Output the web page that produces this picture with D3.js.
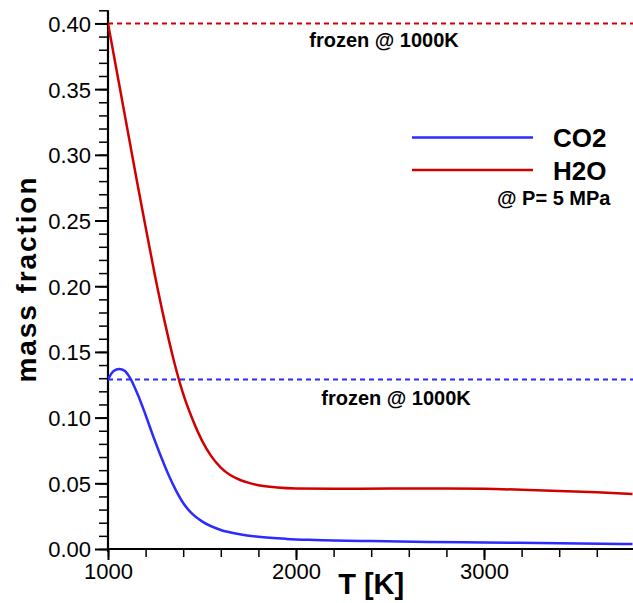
<!DOCTYPE html>
<html>
<head>
<meta charset="utf-8">
<script src="https://cdn.jsdelivr.net/npm/d3@7"></script>
<style>
  body { margin: 0; background: #fff; }
  svg { display: block; font-family: "Liberation Sans", Arial, Helvetica, sans-serif; }
  .axis path, .axis line { stroke: #000; }
</style>
</head>
<body>
<svg id="chart" width="633" height="603"></svg>
<script>

// temperatures [K] and mass fractions
var CO2_T = [1000, 1030, 1060, 1090, 1120, 1160, 1200, 1240, 1280, 1320, 1360, 1400,
  1450, 1500, 1600, 1700, 1800, 1950, 2100, 2400, 2700, 3000, 3400, 3790];
var CO2_Y = [0.129, 0.1355, 0.137, 0.1355, 0.1295, 0.117, 0.102, 0.086, 0.071, 0.057,
  0.045, 0.035, 0.0265, 0.021, 0.0145, 0.0113, 0.0093, 0.0077, 0.0069, 0.0060,
  0.0054, 0.0050, 0.0044, 0.0038];

var H2O_T = [1000, 1050, 1100, 1150, 1200, 1250, 1300, 1350, 1400, 1450, 1500, 1550,
  1600, 1650, 1700, 1750, 1800, 1900, 2000, 2200, 2500, 2800, 3000, 3200, 3400,
  3600, 3790];
var H2O_Y = [0.400, 0.361, 0.322, 0.283, 0.245, 0.208, 0.174, 0.1435, 0.118, 0.0985,
  0.0825, 0.0705, 0.0620, 0.0563, 0.0527, 0.0503, 0.0485, 0.0468, 0.0461, 0.0459,
  0.0460, 0.0460, 0.0458, 0.0451, 0.0442, 0.0431, 0.0419];

var FROZEN_CO2 = 0.129;
var FROZEN_H2O = 0.400;

var X_MAJOR = [1000, 2000, 3000];
var X_MINOR = d3.range(1000, 3700, 200);
var Y_MAJOR = d3.range(0, 0.4001, 0.05);
var Y_MINOR = d3.range(0, 0.4101, 0.01);

var SERIES = [
  { name: 'CO2', color: '#2b2bff', t: CO2_T, y: CO2_Y, frozen: FROZEN_CO2 },
  { name: 'H2O', color: '#d10000', t: H2O_T, y: H2O_Y, frozen: FROZEN_H2O }
];

var svg = d3.select('#chart');

var x = d3.scaleLinear().domain([1000, 3800]).range([108, 634.4]);
var y = d3.scaleLinear().domain([0, 0.41]).range([549, 10.3]);

svg.append('clipPath').attr('id', 'plot-clip')
  .append('rect')
    .attr('x', x(1000)).attr('y', 0)
    .attr('width', 633 - x(1000)).attr('height', y(0));

// ----- axes ------------------------------------------------------------------
svg.append('g')
    .attr('class', 'axis')
    .attr('transform', 'translate(0,' + y(0) + ')')
    .call(d3.axisBottom(x).tickValues(X_MINOR).tickSize(8).tickFormat(''))
    .call((g) => g.select('.domain').remove())
    .call((g) => g.selectAll('line').attr('stroke-width', 1.5));

var xMajor = svg.append('g')
    .attr('class', 'axis')
    .attr('transform', 'translate(0,' + y(0) + ')')
    .call(d3.axisBottom(x).tickValues(X_MAJOR).tickSize(11).tickFormat(d3.format('d')));
xMajor.select('.domain').attr('stroke-width', 2.2).attr('d', 'M' + x(1000) + ',0H633');
xMajor.selectAll('line').attr('stroke-width', 2);
xMajor.selectAll('text')
    .attr('y', 30).attr('dy', 0)
    .attr('font-size', 22).attr('fill', '#000');

svg.append('g')
    .attr('class', 'axis')
    .attr('transform', 'translate(' + x(1000) + ',0)')
    .call(d3.axisLeft(y).tickValues(Y_MINOR).tickSize(9).tickFormat(''))
    .call((g) => g.select('.domain').remove())
    .call((g) => g.selectAll('line').attr('stroke-width', 1.5));

var yMajor = svg.append('g')
    .attr('class', 'axis')
    .attr('transform', 'translate(' + x(1000) + ',0)')
    .call(d3.axisLeft(y).tickValues(Y_MAJOR).tickSize(13).tickPadding(4)
      .tickFormat(d3.format('.2f')));
yMajor.select('.domain').attr('stroke-width', 2.2)
    .attr('d', 'M0,' + (y(0) + 3) + 'V' + y(0.41));
yMajor.selectAll('line').attr('stroke-width', 2);
yMajor.selectAll('text')
    .attr('font-size', 22).attr('fill', '#000').attr('dy', '0.36em');

svg.append('text')
    .attr('x', x(2400)).attr('y', 594)
    .attr('text-anchor', 'middle')
    .attr('font-size', 29).attr('font-weight', 'bold')
    .text('T [K]');

svg.append('text')
    .attr('transform', 'translate(36,280) rotate(-90)')
    .attr('text-anchor', 'middle')
    .attr('font-size', 28).attr('font-weight', 'bold')
    .attr('textLength', 205).attr('lengthAdjust', 'spacing')
    .text('mass fraction');

// ----- curves ----------------------------------------------------------------
var line = d3.line()
    .x((d) => x(d[0]))
    .y((d) => y(d[1]))
    .curve(d3.curveMonotoneX);

var plot = svg.append('g').attr('clip-path', 'url(#plot-clip)');

SERIES.forEach(function(s) {
  plot.append('line')
      .attr('x1', x(1000)).attr('x2', 633)
      .attr('y1', y(s.frozen)).attr('y2', y(s.frozen))
      .attr('stroke', s.color).attr('stroke-width', 2)
      .attr('stroke-dasharray', '5,4');

  plot.append('path')
      .datum(d3.zip(s.t, s.y))
      .attr('fill', 'none')
      .attr('stroke', s.color)
      .attr('stroke-width', 2.5)
      .attr('d', line);
});

// ----- annotations -----------------------------------------------------------
svg.append('text')
    .attr('x', 384).attr('y', 47)
    .attr('text-anchor', 'middle')
    .attr('font-size', 20).attr('font-weight', 'bold')
    .text('frozen @ 1000K');

svg.append('text')
    .attr('x', 396).attr('y', 405)
    .attr('text-anchor', 'middle')
    .attr('font-size', 20).attr('font-weight', 'bold')
    .text('frozen @ 1000K');

// ----- legend ----------------------------------------------------------------
var legend = svg.append('g');
SERIES.forEach(function(s, i) {
  var ly = 137.5 + i * 32.5;
  legend.append('line')
      .attr('x1', 412).attr('x2', 533)
      .attr('y1', ly).attr('y2', ly)
      .attr('stroke', s.color).attr('stroke-width', 2.5);
  legend.append('text')
      .attr('x', 553).attr('y', ly + 9.5)
      .attr('font-size', 26).attr('font-weight', 'bold')
      .text(s.name);
});

legend.append('text')
    .attr('x', 497).attr('y', 205)
    .attr('font-size', 20).attr('font-weight', 'bold')
    .text('@ P= 5 MPa');

</script>
</body>
</html>
